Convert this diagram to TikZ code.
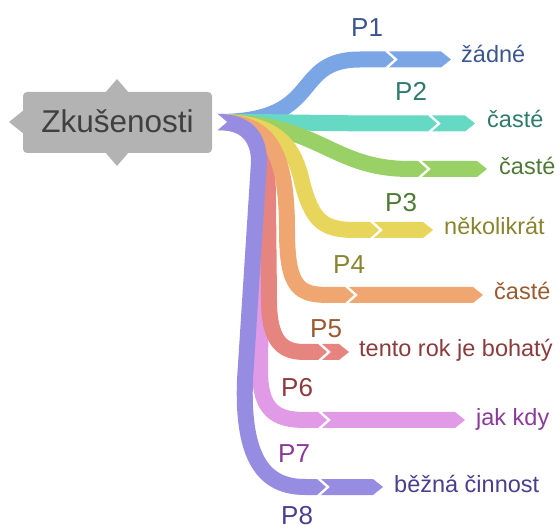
\documentclass[tikz,border=0pt]{standalone}
\usepackage{fontspec}
\setmainfont{Liberation Sans}
\definecolor{boxgray}{HTML}{B3B3B3}
\definecolor{roottext}{HTML}{404040}
\definecolor{rblue}{HTML}{7AA6E6}
\definecolor{rteal}{HTML}{66D9C4}
\definecolor{rgreen}{HTML}{99D166}
\definecolor{ryellow}{HTML}{E8D65C}
\definecolor{rorange}{HTML}{F0A670}
\definecolor{rred}{HTML}{E68580}
\definecolor{rpink}{HTML}{E19BE6}
\definecolor{rpurple}{HTML}{968CE1}
\definecolor{tblue}{HTML}{3A5590}
\definecolor{tteal}{HTML}{2E7A6B}
\definecolor{tgreen}{HTML}{4F7A35}
\definecolor{tolive}{HTML}{8A8430}
\definecolor{tbrown}{HTML}{9A5A30}
\definecolor{tred}{HTML}{8B3B3B}
\definecolor{tmagenta}{HTML}{8A3A99}
\definecolor{tindigo}{HTML}{4A3F8F}
\newcommand\rhead[4]{%
  \fill[#1] (#2,#4-8) -- (#2+9,#4) -- (#2,#4+8) -- cycle;
  \fill[#1] (#2+4,#4-8) -- (#3-10,#4-8) -- (#3,#4) -- (#3-10,#4+8) -- (#2+4,#4+8) -- (#2+13,#4) -- cycle;}
\tikzset{
  band/.style={line width=16pt},
  lab/.style={font=\fontsize{23.5}{28}\selectfont, inner sep=0pt, anchor=base west},
  plab/.style={font=\fontsize{26}{30}\selectfont, inner sep=0pt, anchor=base west}
}
\begin{document}
\begin{tikzpicture}[x=1pt,y=-1pt]
\useasboundingbox (0,0) rectangle (560,529);
% central box
\fill[boxgray, rounded corners=4pt] (23,92) rectangle (212,153);
\fill[boxgray] (105,93) -- (117,79) -- (129,93) -- cycle;
\fill[boxgray] (105,152) -- (117,166) -- (129,152) -- cycle;
\fill[boxgray] (24,110) -- (9,122) -- (24,134) -- cycle;
\node[font=\fontsize{31.5}{36}\selectfont, text=roottext, anchor=base, inner sep=0pt] (root) at (117.5,133) {Zkušenosti};
\coordinate (o) at (218,122);
% ribbons
\draw[band, rpink] (o) .. controls (250,122) and (262,140) .. (262,185) -- (260,370) .. controls (260,410) and (275,420) .. (305,420) -- (318,420);
\rhead{rpink}{318}{465}{420}
\draw[band, rred] (o) .. controls (255,122) and (268,140) .. (268,200) -- (269,300) .. controls (269,345) and (285,352) .. (305,352) -- (318,352);
\rhead{rred}{318}{349}{352}
\draw[band, rblue] (o) .. controls (325,122) and (290,59.5) .. (360,59.5) -- (385,59.5);
\rhead{rblue}{385}{451}{59.5}
\draw[band, rteal] (o) .. controls (300,122) and (320,123.5) .. (400,123.5) -- (428,123.5);
\rhead{rteal}{428}{475}{123.5}
\draw[band, rgreen] (o) .. controls (320,122) and (330,169) .. (410,169) -- (418,169);
\rhead{rgreen}{418}{487}{169}
\draw[band, ryellow] (o) .. controls (280,122) and (295,150) .. (302,182) .. controls (312,220) and (322,230) .. (355,230) -- (370,230);
\rhead{ryellow}{370}{433}{230}
\draw[band, rorange] (o) .. controls (262,122) and (287,140) .. (287,230) .. controls (287,290) and (300,295) .. (330,295) -- (345,295);
\rhead{rorange}{345}{483}{295}
\draw[band, rpurple] (o) .. controls (245,122) and (259,135) .. (259,162) -- (245,380) .. controls (242,460) and (265,487) .. (305,487) -- (317,487);
\rhead{rpurple}{317}{383}{487}
\fill[white] (217,113.5) -- (227,122) -- (217,130.5) -- cycle;
% branch labels
\node[plab, text=tblue] (p1) at (351,37) {P1};
\node[plab, text=tteal] (p2) at (395,101) {P2};
\node[plab, text=tgreen] (p3) at (385,212) {P3};
\node[plab, text=tolive] (p4) at (333,274) {P4};
\node[plab, text=tbrown] (p5) at (310,338) {P5};
\node[plab, text=tred] (p6) at (281,397) {P6};
\node[plab, text=tmagenta] (p7) at (278,463) {P7};
\node[plab, text=tindigo] (p8) at (281,524) {P8};
% leaf labels
\node[lab, text=tblue] (l1) at (461,63) {žádné};
\node[lab, text=tteal] (l2) at (487,128) {časté};
\node[lab, text=tgreen] (l3) at (499,175) {časté};
\node[lab, text=tolive] (l4) at (444,235) {několikrát};
\node[lab, text=tbrown] (l5) at (494,300) {časté};
\node[lab, text=tred] (l6) at (359,357) {tento rok je bohatý};
\node[lab, text=tmagenta] (l7) at (476,425) {jak kdy};
\node[lab, text=tindigo] (l8) at (394,493) {běžná činnost};
\end{tikzpicture}
\end{document}
